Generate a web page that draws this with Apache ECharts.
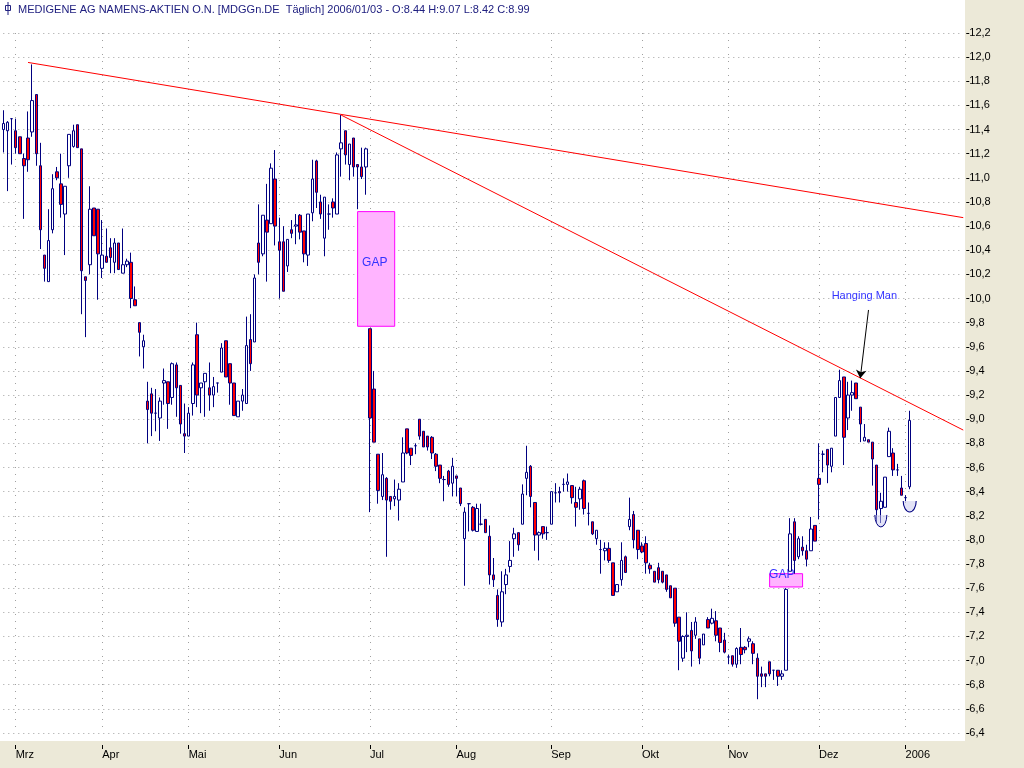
<!DOCTYPE html>
<html>
<head>
<meta charset="utf-8">
<title>MEDIGENE AG</title>
<script src="https://cdn.jsdelivr.net/npm/echarts@6/dist/echarts.min.js"></script>
<style>
    html, body { margin: 0; padding: 0; background: #ECE9D8; }
    #kchart { width: 1024px; height: 768px; }
</style>
</head>
<body>
<div id="kchart"></div>
<script>
// Tageskerzen [open, close, low, high], 24.02.2005 - 03.01.2006
var ohlc = [
    [11.40, 11.45, 11.21, 11.56], [11.39, 11.46, 10.89, 11.47], [11.49, 11.49, 11.11, 11.49],
    [11.39, 11.25, 11.20, 11.49], [11.34, 11.20, 11.20, 11.34], [11.16, 11.10, 10.66, 11.20],
    [11.33, 11.15, 11.05, 11.55], [11.38, 11.64, 11.34, 11.94], [11.69, 11.20, 11.10, 11.69],
    [11.10, 10.57, 10.41, 11.29], [10.36, 10.25, 10.14, 10.36], [10.14, 10.48, 10.14, 10.74],
    [10.57, 10.91, 10.54, 11.03], [11.05, 11.00, 10.98, 11.09], [10.95, 10.78, 10.67, 11.20],
    [10.70, 10.93, 10.36, 10.93], [11.10, 11.36, 11.00, 11.36], [11.26, 11.39, 11.25, 11.44],
    [11.44, 11.25, 11.25, 11.44], [11.24, 10.23, 9.87, 11.24], [10.18, 10.15, 9.68, 10.18],
    [10.28, 10.74, 10.20, 10.93], [10.75, 10.52, 10.52, 10.75], [10.74, 10.37, 9.99, 10.74],
    [10.25, 10.36, 10.17, 10.65], [10.35, 10.30, 10.30, 10.58], [10.42, 10.34, 10.21, 10.50],
    [10.30, 10.46, 10.21, 10.50], [10.46, 10.24, 10.24, 10.46], [10.21, 10.28, 10.21, 10.58],
    [10.28, 10.31, 10.26, 10.33], [10.30, 10.00, 9.92, 10.38], [9.99, 9.94, 9.94, 10.10],
    [9.80, 9.72, 9.52, 9.80], [9.60, 9.65, 9.42, 9.70], [9.15, 9.08, 8.80, 9.31],
    [9.21, 9.05, 8.86, 9.26], [9.05, 9.05, 8.90, 9.25], [9.01, 9.15, 8.82, 9.18],
    [9.30, 9.32, 9.12, 9.42], [9.31, 9.13, 8.92, 9.31], [9.18, 9.46, 9.12, 9.47],
    [9.45, 9.26, 9.02, 9.47], [9.28, 8.96, 8.88, 9.28], [8.88, 8.86, 8.72, 9.13],
    [8.86, 9.05, 8.86, 9.10], [9.13, 9.45, 9.03, 9.47], [9.70, 9.20, 9.10, 9.80],
    [9.26, 9.30, 9.05, 9.30], [9.31, 9.38, 9.02, 9.38], [9.26, 9.20, 9.07, 9.47],
    [9.20, 9.27, 9.10, 9.35], [9.30, 9.30, 9.22, 9.30], [9.39, 9.59, 9.39, 9.63],
    [9.65, 9.35, 9.35, 9.65], [9.46, 9.30, 9.12, 9.46], [9.30, 9.03, 9.03, 9.30],
    [9.02, 9.15, 9.02, 9.15], [9.15, 9.20, 9.07, 9.25], [9.13, 9.61, 9.13, 9.85],
    [9.66, 9.46, 9.40, 9.87], [9.64, 10.17, 9.64, 10.20], [10.46, 10.30, 10.20, 10.78],
    [10.37, 10.69, 10.35, 10.69], [10.65, 10.55, 10.14, 10.95], [10.62, 11.08, 10.62, 11.12],
    [10.99, 10.60, 10.44, 11.23], [10.47, 10.40, 10.00, 10.67], [10.47, 10.06, 10.06, 10.60],
    [10.27, 10.49, 10.22, 10.49], [10.57, 10.54, 10.50, 10.65], [10.60, 10.61, 10.45, 10.70],
    [10.69, 10.55, 10.49, 10.70], [10.56, 10.37, 10.30, 10.56], [10.36, 10.70, 10.27, 10.70],
    [10.71, 10.99, 10.64, 11.15], [11.14, 10.88, 10.75, 11.15], [10.80, 10.70, 10.66, 10.86],
    [10.50, 10.84, 10.35, 10.84], [10.70, 10.70, 10.57, 10.78], [10.80, 10.75, 10.67, 10.83],
    [10.70, 11.19, 10.70, 11.21], [11.24, 11.29, 11.01, 11.52], [11.39, 11.19, 11.11, 11.39],
    [11.11, 11.28, 10.98, 11.28], [11.33, 11.09, 11.01, 11.33], [11.11, 11.09, 10.74, 11.11],
    [11.09, 11.01, 10.99, 11.25], [11.09, 11.24, 10.86, 11.25], [9.75, 9.01, 8.23, 9.75],
    [9.25, 8.81, 8.81, 9.40], [8.71, 8.41, 8.30, 8.71], [8.36, 8.54, 8.33, 8.72],
    [8.51, 8.33, 7.86, 8.52], [8.36, 8.32, 8.25, 8.36], [8.34, 8.36, 8.28, 8.50],
    [8.33, 8.42, 8.16, 8.47], [8.48, 8.72, 8.48, 8.85], [8.92, 8.72, 8.71, 8.92],
    [8.76, 8.70, 8.62, 8.76], [8.78, 8.78, 8.71, 8.80], [9.00, 8.86, 8.83, 9.00],
    [8.90, 8.77, 8.77, 8.90], [8.86, 8.77, 8.74, 8.86], [8.85, 8.72, 8.67, 8.86],
    [8.71, 8.61, 8.57, 8.72], [8.62, 8.51, 8.47, 8.62], [8.50, 8.50, 8.32, 8.53],
    [8.57, 8.46, 8.44, 8.58], [8.47, 8.61, 8.36, 8.68], [8.53, 8.51, 8.36, 8.53],
    [8.43, 8.30, 8.28, 8.43], [8.01, 8.23, 7.62, 8.27], [8.30, 8.30, 8.07, 8.30],
    [8.27, 8.08, 8.07, 8.28], [8.07, 8.26, 8.07, 8.30], [8.13, 8.13, 8.12, 8.30],
    [8.17, 8.06, 8.06, 8.17], [8.03, 7.71, 7.63, 8.12], [7.71, 7.67, 7.61, 7.85],
    [7.54, 7.34, 7.28, 7.59], [7.32, 7.57, 7.28, 7.74], [7.63, 7.71, 7.55, 7.76],
    [7.78, 7.83, 7.73, 7.99], [8.01, 8.05, 7.86, 8.10], [8.06, 7.96, 7.91, 8.06],
    [8.13, 8.38, 8.13, 8.46], [8.51, 8.56, 8.37, 8.78], [8.61, 8.36, 8.27, 8.62],
    [8.31, 8.04, 7.91, 8.31], [8.04, 8.06, 7.83, 8.07], [8.11, 8.05, 8.01, 8.11],
    [8.06, 8.06, 8.00, 8.11], [8.13, 8.40, 8.13, 8.40], [8.39, 8.39, 8.31, 8.47],
    [8.40, 8.39, 8.31, 8.44], [8.46, 8.46, 8.40, 8.51], [8.46, 8.48, 8.40, 8.55],
    [8.45, 8.35, 8.30, 8.45], [8.31, 8.27, 8.11, 8.44], [8.34, 8.42, 8.25, 8.44],
    [8.49, 8.26, 8.21, 8.50], [8.22, 8.22, 8.12, 8.31], [8.15, 8.05, 8.04, 8.15],
    [8.01, 8.08, 7.96, 8.08], [7.92, 7.92, 7.72, 8.00], [7.91, 7.93, 7.83, 7.98],
    [7.93, 7.83, 7.81, 7.98], [7.81, 7.54, 7.54, 7.81], [7.57, 7.63, 7.57, 7.63],
    [7.67, 7.83, 7.62, 7.98], [7.86, 7.73, 7.73, 7.87], [8.11, 8.17, 8.08, 8.35],
    [8.21, 8.00, 7.93, 8.24], [8.08, 7.92, 7.84, 8.08], [7.95, 7.90, 7.89, 7.98],
    [7.97, 7.81, 7.72, 8.03], [7.79, 7.76, 7.72, 7.81], [7.74, 7.65, 7.65, 7.74],
    [7.77, 7.67, 7.64, 7.81], [7.74, 7.65, 7.64, 7.74], [7.71, 7.59, 7.57, 7.71],
    [7.62, 7.52, 7.52, 7.62], [7.60, 7.31, 7.28, 7.60], [7.36, 7.16, 6.92, 7.36],
    [7.02, 7.20, 6.99, 7.21], [7.20, 7.21, 7.07, 7.40], [7.25, 7.08, 6.95, 7.32],
    [7.21, 7.32, 7.18, 7.36], [7.18, 7.02, 6.97, 7.18], [7.13, 7.22, 7.13, 7.22],
    [7.34, 7.27, 7.27, 7.36], [7.31, 7.35, 7.30, 7.43], [7.33, 7.21, 7.16, 7.41],
    [7.27, 7.15, 7.07, 7.27], [7.17, 7.07, 7.06, 7.23], [7.03, 7.03, 6.97, 7.05],
    [7.04, 6.97, 6.95, 7.04], [6.97, 7.10, 6.94, 7.11], [7.11, 7.05, 6.97, 7.27],
    [7.11, 7.09, 7.06, 7.12], [7.16, 7.18, 7.11, 7.20], [7.14, 7.06, 6.97, 7.16],
    [7.02, 6.87, 6.68, 7.06], [6.89, 6.87, 6.78, 6.95], [6.89, 6.87, 6.78, 6.89],
    [6.99, 6.89, 6.87, 6.99], [6.92, 6.92, 6.84, 6.92], [6.92, 6.87, 6.79, 6.92],
    [6.87, 6.89, 6.84, 6.92], [6.92, 7.59, 6.92, 7.60], [7.74, 8.05, 7.74, 8.18],
    [8.15, 7.83, 7.72, 8.18], [7.86, 8.01, 7.84, 8.03], [7.94, 7.91, 7.87, 8.03],
    [7.91, 7.84, 7.78, 7.96], [7.91, 8.09, 7.91, 8.19], [8.12, 7.99, 7.99, 8.12],
    [8.51, 8.46, 8.17, 8.80], [8.71, 8.71, 8.56, 8.74], [8.75, 8.62, 8.47, 8.75],
    [8.61, 8.76, 8.56, 8.76], [8.86, 9.18, 8.86, 9.18], [9.18, 9.32, 9.18, 9.41],
    [9.35, 8.85, 8.62, 9.35], [9.01, 9.20, 8.91, 9.31], [9.20, 9.22, 9.07, 9.32],
    [9.30, 9.17, 9.17, 9.30], [9.10, 8.96, 8.81, 9.10], [8.82, 8.85, 8.82, 8.96],
    [8.83, 8.81, 8.81, 8.83], [8.81, 8.67, 8.45, 8.81], [8.62, 8.25, 8.15, 8.62],
    [8.26, 8.32, 8.14, 8.39], [8.27, 8.52, 8.27, 8.52], [8.69, 8.90, 8.69, 8.93],
    [8.72, 8.58, 8.53, 8.76], [8.58, 8.58, 8.53, 8.63], [8.43, 8.37, 8.37, 8.53],
    [8.35, 8.35, 8.32, 8.37], [8.44, 8.99, 8.42, 9.07]
];

// erster Handelstag je Monat (Index in ohlc) und Beschriftung
var monthStarts = [3, 24, 45, 67, 89, 110, 133, 155, 176, 198, 219];
var monthNames = ['Mrz', 'Apr', 'Mai', 'Jun', 'Jul', 'Aug', 'Sep', 'Okt', 'Nov', 'Dez', '2006'];

// leere Tage rechts bis zum Rand
var emptyDays = 13;

// Trendlinien [startIndex, startKurs, endIndex, endKurs]
var trendLines = [
    [6, 11.956, 233, 10.67],
    [82, 11.52, 233, 8.91]
];

// Kurslücken [vonIndex, oben, bisIndex, unten, labelOffsetX]
var gaps = [
    [86, 10.72, 95, 9.77, 0],
    [186, 7.72, 194, 7.61, -5]
];

var yTicks = { min: 6.4, max: 12.2, step: 0.2 };

myKchart();

function myKchart() {
    var dom = document.getElementById("kchart");
    var myChart = echarts.init(dom);
    var days = [];
    for (var i = 0; i < ohlc.length + emptyDays; i++) {
        days.push(String(i));
    }
    var isMonth = function (index) {
        return monthStarts.indexOf(index) >= 0;
    };
    var dotted = {color: '#a0a0a0', width: 1, type: [1, 4]};

    var lineData = trendLines.map(function (t) {
        return [{coord: [t[0], t[1]]}, {coord: [t[2], t[3]]}];
    });
    // Pfeil auf den Hanging Man
    lineData.push([
        {coord: [210, 9.905], lineStyle: {color: '#000000', width: 1}},
        {coord: [208, 9.34], symbol: 'arrow', symbolSize: 8}
    ]);

    var areaData = gaps.map(function (g) {
        return [{
            coord: [g[0], g[1]],
            label: {offset: [g[4], -6]}
        }, {coord: [g[2], g[3]]}];
    });

    // Halbkreis nach unten offen oben
    var halfRound = 'path://M20,0 A10,10 0 0 1 0,0';

    option = null;
    option = {
        animation: false,
        backgroundColor: '#ECE9D8',
        textStyle: {fontFamily: 'Liberation Sans, Arial, sans-serif'},
        title: {
            text: 'MEDIGENE AG NAMENS-AKTIEN O.N. [MDGGn.DE  Täglich] 2006/01/03 - O:8.44 H:9.07 L:8.42 C:8.99',
            left: 18,
            top: 4,
            padding: 0,
            textStyle: {fontSize: 11, fontWeight: 'normal', color: '#202080'}
        },
        graphic: [
            {type: 'rect', z: -10, silent: true, shape: {x: 0, y: 0, width: 965, height: 741}, style: {fill: '#ffffff'}},
            {type: 'rect', z: 10, shape: {x: 5.5, y: 5.5, width: 5, height: 5}, style: {fill: '#ffffff', stroke: '#202080', lineWidth: 1}},
            {type: 'line', z: 10, shape: {x1: 8, y1: 2, x2: 8, y2: 15}, style: {stroke: '#202080', lineWidth: 1}}
        ],
        grid: {left: 3.3, right: 60.74, top: 33, bottom: 35},
        xAxis: {
            type: 'category',
            boundaryGap: false,
            data: days,
            offset: 12,
            axisLine: {show: false},
            axisTick: {show: true, interval: isMonth, length: 4, lineStyle: {color: '#000000'}},
            axisLabel: {
                interval: isMonth,
                align: 'left',
                margin: 4,
                fontSize: 11,
                color: '#000000',
                formatter: function (value, index) {
                    return monthNames[monthStarts.indexOf(index)];
                }
            },
            splitLine: {show: true, interval: isMonth, lineStyle: {color: '#a0a0a0', width: 1, type: [1, 6]}}
        },
        yAxis: {
            type: 'value',
            position: 'right',
            scale: true,
            min: yTicks.min,
            max: yTicks.max,
            interval: yTicks.step,
            offset: 3,
            axisLine: {show: false},
            axisTick: {show: true, length: 3, lineStyle: {color: '#000000'}},
            axisLabel: {
                margin: 3,
                fontSize: 11,
                color: '#000000',
                formatter: function (v) {
                    return v.toFixed(1).replace('.', ',');
                }
            },
            splitLine: {show: true, lineStyle: dotted}
        },
        series: [{
            type: 'candlestick',
            data: ohlc,
            barWidth: 3,
            itemStyle: {
                color: '#ffffff',
                color0: '#ff0000',
                borderColor: '#000080',
                borderColor0: '#000080',
                borderWidth: 1
            },
            markLine: {
                silent: true,
                symbol: ['none', 'none'],
                label: {show: false},
                lineStyle: {color: '#ff0000', width: 1, type: 'solid'},
                emphasis: {disabled: true},
                data: lineData
            },
            markArea: {
                silent: true,
                itemStyle: {color: '#ffb4ff', borderColor: '#ff00ff', borderWidth: 1},
                label: {
                    show: true,
                    formatter: 'GAP',
                    position: 'insideLeft',
                    color: '#3333ff',
                    fontSize: 12
                },
                data: areaData
            },
            markPoint: {
                silent: true,
                data: [
                    {
                        coord: [209, 10.021],
                        symbol: 'circle',
                        symbolSize: 0,
                        label: {show: true, formatter: 'Hanging Man', color: '#3333ff', fontSize: 11}
                    },
                    {
                        coord: [213, 8.157],
                        symbol: halfRound,
                        symbolSize: [12, 12],
                        itemStyle: {color: 'rgba(200,200,240,0.5)', borderColor: '#000080', borderWidth: 1},
                        label: {show: false}
                    },
                    {
                        coord: [220, 8.277],
                        symbol: halfRound,
                        symbolSize: [13, 11],
                        itemStyle: {color: 'rgba(200,200,240,0.5)', borderColor: '#000080', borderWidth: 1},
                        label: {show: false}
                    }
                ]
            }
        }]
    };
    if (option && typeof option === "object") {
        myChart.setOption(option, true);
    }
}
</script>
</body>
</html>
